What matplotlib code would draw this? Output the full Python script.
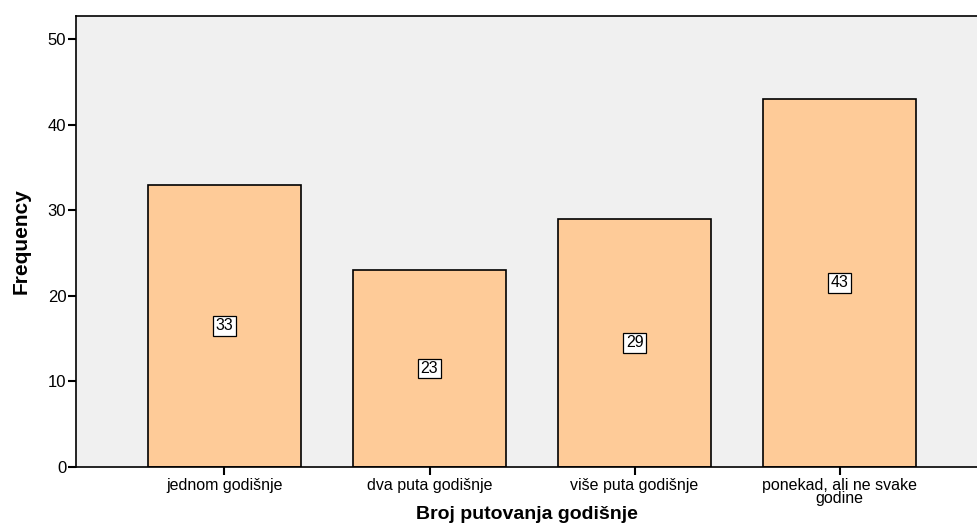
import matplotlib.pyplot as plt
import numpy as np

plt.rcParams['font.family'] = ['Liberation Sans', 'DejaVu Sans']

categories = ['jednom godišnje', 'dva puta godišnje', 'više puta godišnje',
              'ponekad, ali ne svake\ngodine']
counts = [33, 23, 29, 43]

fig = plt.figure(figsize=(9.77, 5.26), dpi=100)
ax = fig.add_axes([0.0778, 0.1122, 0.9222, 0.8574])
ax.set_facecolor('#f0f0f0')

x = np.arange(len(categories))
bars = ax.bar(x, counts, width=0.746, color='#fecb98', edgecolor='black', linewidth=1.2)

for xi, c in zip(x, counts):
    ax.text(xi, c / 2, str(c), ha='center', va='center', fontsize=11.5,
            bbox=dict(boxstyle='square,pad=0.15', facecolor='white', edgecolor='black', linewidth=0.9))

ax.set_xlim(-0.724, 3.67)
ax.set_ylim(0, 52.7)
ax.set_yticks([0, 10, 20, 30, 40, 50])
ax.set_xticks(x)
ax.set_xticklabels(categories, fontsize=11.5, linespacing=0.8)
ax.tick_params(axis='y', labelsize=12, length=6, width=1.5, pad=1)
ax.tick_params(axis='x', length=6, width=1.5, pad=2)

for s in ['left', 'bottom', 'top']:
    ax.spines[s].set_linewidth(1.2)
ax.spines['right'].set_visible(False)

ax.set_xlabel('Broj putovanja godišnje', fontsize=14, fontweight='bold', labelpad=0)
ax.set_ylabel('Frequency', fontsize=15, fontweight='bold', labelpad=12,
              family=['Liberation Sans Narrow', 'Liberation Sans'])

plt.savefig('out.png', dpi=100)
